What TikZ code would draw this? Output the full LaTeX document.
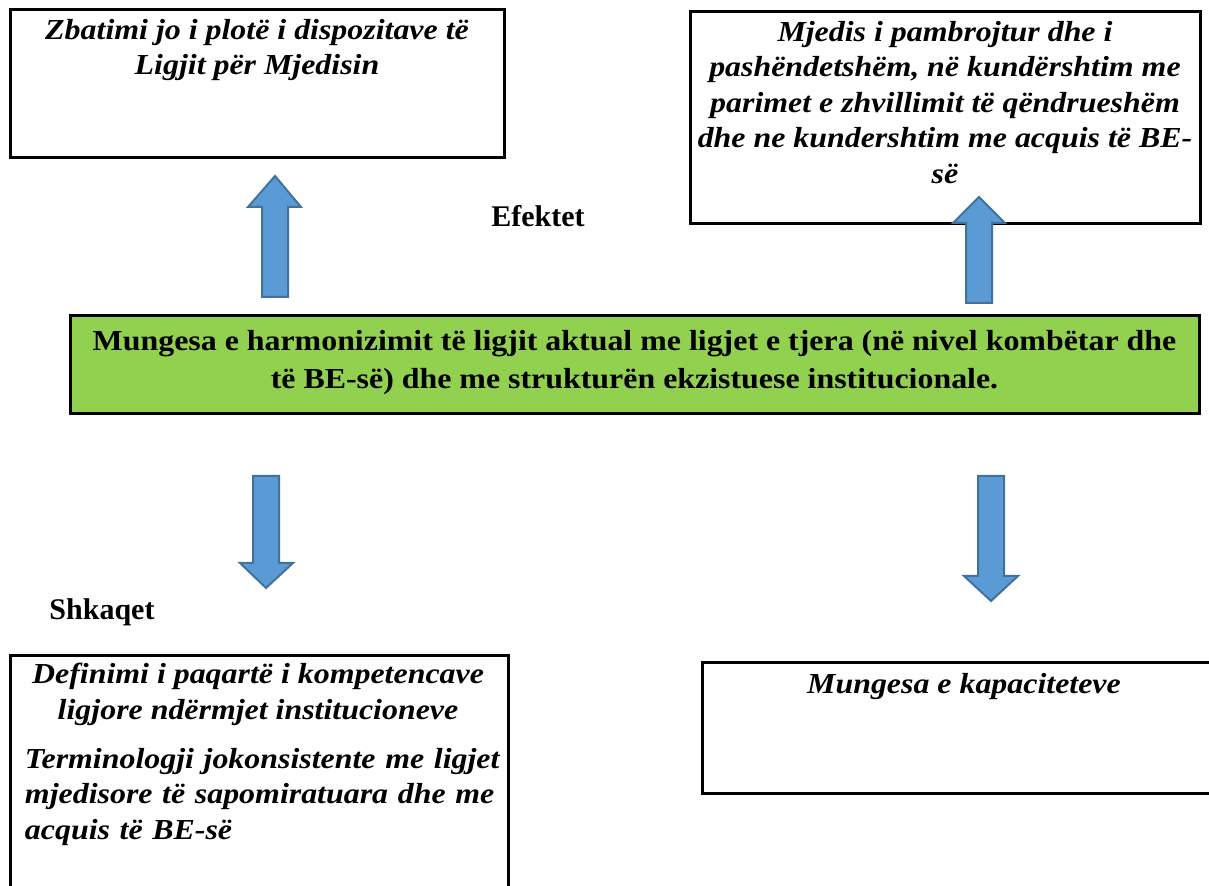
\documentclass[tikz,border=0pt]{standalone}
\usepackage{fontspec}
\setmainfont{Liberation Serif}
\newfontfamily\boxfont[FakeStretch=1.1]{Liberation Serif}
\usetikzlibrary{positioning}

\definecolor{boxgreen}{HTML}{92D050}
\definecolor{arrowblue}{HTML}{5B9BD5}
\definecolor{arrowedge}{HTML}{41719C}

\tikzset{
  frame/.style={line width=1.5pt},
  blockarrow/.style={fill=arrowblue, draw=arrowedge, line width=1pt, line join=miter},
  boxtext/.style={font=\boxfont\fontsize{14.5}{17.75}\selectfont\bfseries\itshape, align=center, inner sep=0pt},
  maintext/.style={font=\boxfont\fontsize{14.5}{19}\selectfont\bfseries, align=center, inner sep=0pt},
  headtext/.style={font=\fontsize{15}{18}\selectfont\bfseries, inner sep=0pt},
}

\begin{document}
\begin{tikzpicture}[x=0.5pt, y=-0.5pt]
  \useasboundingbox (0,0) rectangle (1209,886);

  % boxes
  \coordinate (zb-top) at (257,10);
  \coordinate (mj-top) at (945,12);
  \coordinate (mh-top) at (634.5,316);
  \coordinate (df-top) at (258,655);
  \coordinate (kp-top) at (964,662);
  \draw[frame] (10,10) rectangle (504,158);
  \draw[frame] (690,12) rectangle (1200,224);
  \draw[frame, fill=boxgreen] (70,316) rectangle (1199,414);
  \draw[frame] (10,655) rectangle (508,900);
  \draw[frame] (702,662) rectangle (1226,793);

  \node[boxtext, below=4.35pt] (zbatimi) at (zb-top)
    {Zbatimi jo i plotë i dispozitave të\\Ligjit për Mjedisin};
  \node[boxtext, below=4.35pt] (mjedisi) at (mj-top)
    {Mjedis i pambrojtur dhe i\\pashëndetshëm, në kundërshtim me\\parimet e zhvillimit të qëndrueshëm\\dhe ne kundershtim me acquis të BE-\\së};
  \node[maintext, below=7pt] (mungesa) at (mh-top)
    {Mungesa e harmonizimit të ligjit aktual me ligjet e tjera (në nivel kombëtar dhe\\
     të BE-së) dhe me strukturën ekzistuese institucionale.};
  \node[boxtext, below=3.85pt] (definimi) at (df-top)
    {Definimi i paqartë i kompetencave\\ligjore ndërmjet institucioneve};
  \node[boxtext, align=left, text width=233pt, below=11.15pt of definimi] (terminologji)
    {\makebox[233pt][s]{Terminologji jokonsistente me ligjet}\\
     \makebox[233pt][s]{mjedisore të sapomiratuara dhe me}\\
     acquis të BE-së};
  \node[boxtext, below=5.35pt] (kapacitete) at (kp-top) {Mungesa e kapaciteteve};

  % labels
  \node[headtext, anchor=base] (efektet) at (538,227) {Efektet};
  \node[headtext, anchor=base] (shkaqet) at (102,620) {Shkaqet};

  % block arrows
  \draw[blockarrow] (262,297) -- (262,207) -- (248,207) -- (275,176)
    -- (301,207) -- (288,207) -- (288,297) -- cycle;
  \draw[blockarrow] (966,303) -- (966,223) -- (953,223) -- (979,197)
    -- (1005,223) -- (992,223) -- (992,303) -- cycle;
  \draw[blockarrow] (253,476) -- (253,563) -- (240,563) -- (266,588)
    -- (293,563) -- (279,563) -- (279,476) -- cycle;
  \draw[blockarrow] (978,476) -- (978,576) -- (964,576) -- (991,601)
    -- (1018,576) -- (1004,576) -- (1004,476) -- cycle;
\end{tikzpicture}
\end{document}
